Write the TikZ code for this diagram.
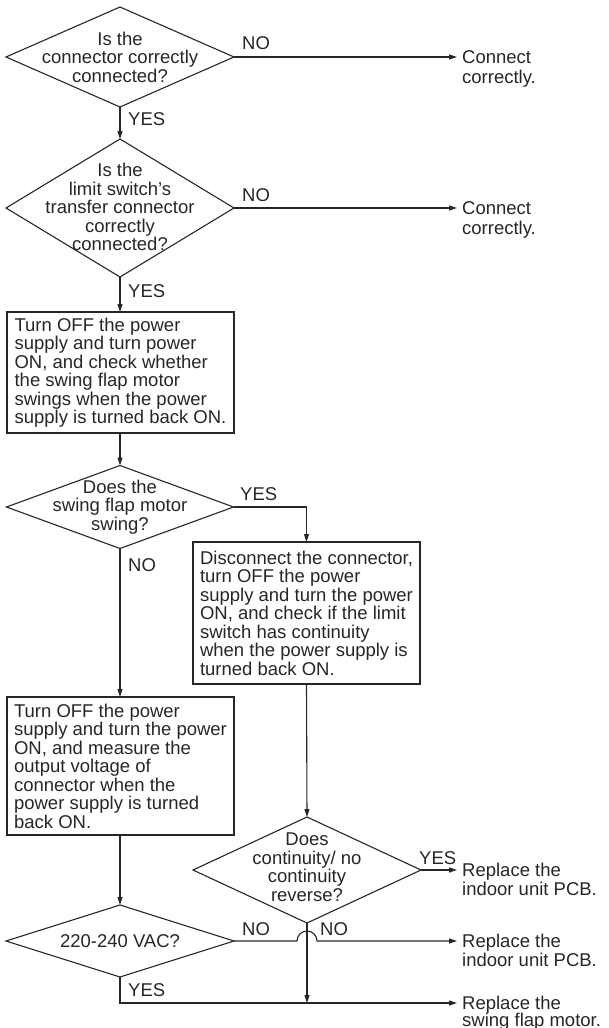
\documentclass[tikz,border=0pt]{standalone}
\usepackage{fontspec}
\setmainfont{Liberation Sans}
\usetikzlibrary{shapes.geometric,arrows.meta}
\definecolor{ink}{HTML}{262626}
\begin{document}
\begin{tikzpicture}[x=1pt,y=-1pt,
  font=\fontsize{18.5}{18.5}\selectfont,
  dia/.style={diamond, draw=ink, line width=1.1pt, inner sep=0pt, outer sep=0pt},
  dtext/.style={align=center, text=ink, inner sep=0pt},
  stepbox/.style={rectangle, draw=ink, line width=1.1pt, inner sep=0pt,
    outer sep=0pt, minimum width=227pt, align=left,
    anchor=north west, text=ink},
  lbl/.style={inner sep=0pt, anchor=base west, text=ink},
  flow/.style={draw=ink, line width=1.1pt},
  arr/.style={flow, -{Triangle[length=8pt,width=5pt]}}
]
\useasboundingbox (0,0) rectangle (609,1028);

% decisions
\node[dia, minimum width=228pt, minimum height=100pt] (d1) at (120,57) {};
\node[dtext] at (120,57) {Is the\\connector correctly\\connected?};

\node[dia, minimum width=228pt, minimum height=138pt] (d2) at (120,208) {};
\node[dtext] at (120,207) {Is the\\limit switch's\\transfer connector\\correctly\\connected?};

\node[dia, minimum width=227pt, minimum height=83pt] (d3) at (120,507) {};
\node[dtext] at (120,507) {Does the\\swing flap motor\\swing?};

\node[dia, minimum width=228pt, minimum height=106pt] (d4) at (307,870) {};
\node[dtext] at (307,867) {Does\\continuity/ no\\continuity\\reverse?};

\node[dia, minimum width=228pt, minimum height=72pt] (d5) at (120,941) {};
\node[dtext] at (120,941) {220-240 VAC?};

% process boxes
\node[stepbox, minimum height=121pt] (b1) at (7,312)
  {Turn OFF the power\\supply and turn power\\ON, and check whether\\the swing flap motor\\swings when the power\\supply is turned back ON.};
\node[stepbox, minimum height=142pt] (b2) at (193,542)
  {Disconnect the connector,\\turn OFF the power\\supply and turn the power\\ON, and check if the limit\\switch has continuity\\when the power supply is\\turned back ON.};
\node[stepbox, minimum height=138pt] (b3) at (7,697)
  {Turn OFF the power\\supply and turn the power\\ON, and measure the\\output voltage of\\connector when the\\power supply is turned\\back ON.};

% results
\node[lbl] (r1) at (462,63.5) {Connect};
\node[lbl] at (462,83) {correctly.};
\node[lbl] (r2) at (462,214.5) {Connect};
\node[lbl] at (462,234) {correctly.};
\node[lbl] (r3) at (462,876.5) {Replace the};
\node[lbl] at (462,895.5) {indoor unit PCB.};
\node[lbl] (r4) at (462,947.5) {Replace the};
\node[lbl] at (462,966.5) {indoor unit PCB.};
\node[lbl] (r5) at (462,1009) {Replace the};
\node[lbl] at (462,1026) {swing flap motor.};

% branch labels
\node[lbl] at (242,49) {NO};
\node[lbl] at (128,125) {YES};
\node[lbl] at (242,201) {NO};
\node[lbl] at (128,297) {YES};
\node[lbl] at (240,500) {YES};
\node[lbl] at (128,571) {NO};
\node[lbl] at (419,864) {YES};
\node[lbl] at (242,935) {NO};
\node[lbl] at (320,935) {NO};
\node[lbl] at (128,996) {YES};

% connectors
\draw[arr] (d1.east) -- ([xshift=-5pt]d1.east -| r1.west);
\draw[arr] (d1.south) -- (d2.north);
\draw[arr] (d2.east) -- ([xshift=-5pt]d2.east -| r2.west);
\draw[arr] (d2.south) -- (d2.south |- b1.north);
\draw[arr] (b1.south -| d3.north) -- (d3.north);
\draw[arr] (d3.east) -| (b2.north);
\draw[arr] (d3.south) -- (d3.south |- b3.north);
\draw[arr] (b3.south -| d5.north) -- (d5.north);
\draw[arr] (b2.south) -- (d4.north);
\draw[arr] (d4.east) -- ([xshift=-5pt]d4.east -| r3.west);

\coordinate (hop) at (d4.south |- d5.east);
\draw[arr] (d5.east) -- ([xshift=-10pt]hop)
  arc[start angle=180, end angle=0, radius=10pt]
  -- ([xshift=-5pt]d5.east -| r4.west);

\coordinate (base) at (120,1003);
\draw[arr] (d4.south) -- (d4.south |- base);
\draw[arr] (d5.south) -- (base) -- ([xshift=-5pt]base -| r5.west);
\end{tikzpicture}
\end{document}
